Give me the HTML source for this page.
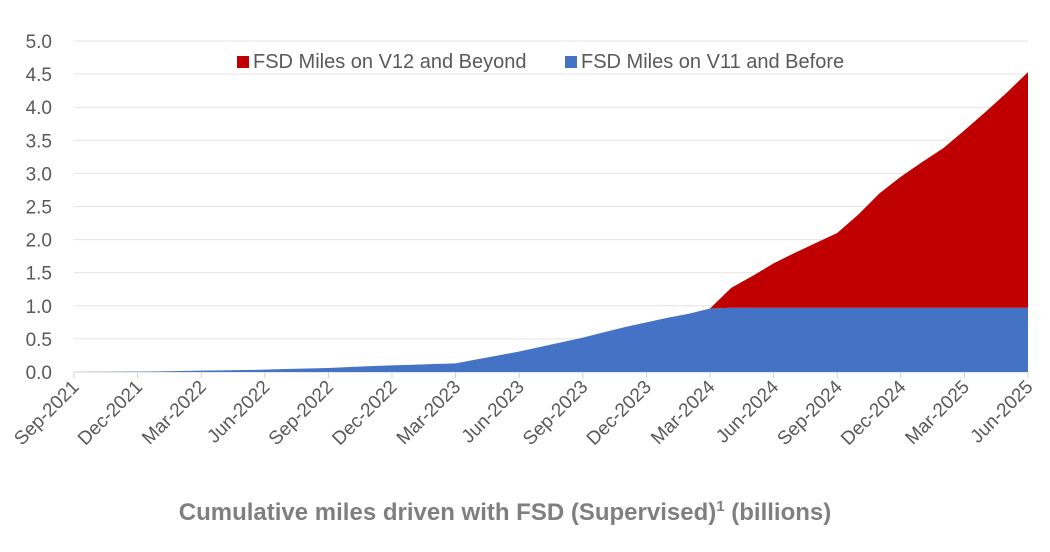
<!DOCTYPE html>
<html><head><meta charset="utf-8"><style>
body{margin:0;background:#fff;width:1050px;height:547px;overflow:hidden}
text{font-family:"Liberation Sans",sans-serif}
</style></head><body>
<svg id="chart" width="1050" height="547" viewBox="0 0 1050 547">
<g id="grid"></g><g id="areas"></g><g id="yaxis"></g><g id="xaxis"></g>
<g>
<rect x="237" y="56" width="12" height="12" fill="#c00000"/>
<text x="253" y="68" font-size="20" fill="#595959">FSD Miles on V12 and Beyond</text>
<rect x="565" y="56" width="12" height="12" fill="#4472c4"/>
<text x="581" y="68" font-size="20" fill="#595959">FSD Miles on V11 and Before</text>
</g>
<text x="505" y="520" text-anchor="middle" font-size="24" font-weight="bold" fill="#7f7f7f">Cumulative miles driven with FSD (Supervised)<tspan font-size="15" dy="-9">1</tspan><tspan dy="9"> (billions)</tspan></text>
</svg>
<script>
const yTicks=[0,0.5,1,1.5,2,2.5,3,3.5,4,4.5,5];
const xTickLabels=["Sep-2021","Dec-2021","Mar-2022","Jun-2022","Sep-2022","Dec-2022","Mar-2023","Jun-2023","Sep-2023","Dec-2023","Mar-2024","Jun-2024","Sep-2024","Dec-2024","Mar-2025","Jun-2025"];
const v11Values=[0,0.002,0.004,0.006,0.01,0.015,0.02,0.025,0.03,0.035,0.045,0.052,0.06,0.075,0.088,0.1,0.11,0.12,0.13,0.19,0.25,0.31,0.38,0.45,0.52,0.6,0.68,0.75,0.82,0.88,0.96,0.97,0.97,0.97,0.97,0.97,0.97,0.97,0.97,0.97,0.97,0.97,0.97,0.97,0.97,0.97];
const v12Values=[0,0,0,0,0,0,0,0,0,0,0,0,0,0,0,0,0,0,0,0,0,0,0,0,0,0,0,0,0,0,0,0.3,0.48,0.67,0.83,0.98,1.13,1.41,1.73,1.98,2.2,2.41,2.68,2.96,3.25,3.56];
const NS="http://www.w3.org/2000/svg";
const X0=74,X1=1028,Y0=372,Y1=41;
const n=v11Values.length;
const x=i=>X0+(X1-X0)*i/(n-1);
const y=v=>Y0-(Y0-Y1)*v/5;
function mk(tag,attrs,parent){const e=document.createElementNS(NS,tag);for(const k in attrs)e.setAttribute(k,attrs[k]);document.getElementById(parent).appendChild(e);return e;}
yTicks.forEach(t=>{
 const l=mk('line',{x1:X0,x2:X1,y1:y(t),y2:y(t),stroke:t===0?'#d0d0d0':'#e3e3e3','stroke-width':1},'grid');
 
 
 const tx=mk('text',{x:52,y:y(t)+7,'text-anchor':'end','font-size':19,fill:'#595959'},'yaxis');
 tx.textContent=t.toFixed(1);
 
 
});
let blueTop=v11Values.map((v,i)=>x(i)+','+y(v)).join(' ');
const blue=mk('polygon',{points:x(0)+','+Y0+' '+blueTop+' '+x(n-1)+','+Y0,fill:'#4472c4'},'areas');


let redTop=v12Values.map((v,i)=>x(i)+','+y(v+v11Values[i])).join(' ');
let redBot=v11Values.map((v,i)=>x(i)+','+y(v)).reverse().join(' ');
const red=mk('polygon',{points:redTop+' '+redBot,fill:'#c00000'},'areas');


xTickLabels.forEach((lab,k)=>{
 const xi=x(k*3);
 const tk=mk('line',{x1:xi,x2:xi,y1:Y0,y2:Y0+6,stroke:'#d0d0d0'},'xaxis');
 
 
 const t=mk('text',{x:xi+6,y:Y0+16,'text-anchor':'end','font-size':19,fill:'#595959',transform:`rotate(-45 ${xi+6} ${Y0+16})`},'xaxis');
 t.textContent=lab;
 
 
});
</script>
</body></html>
